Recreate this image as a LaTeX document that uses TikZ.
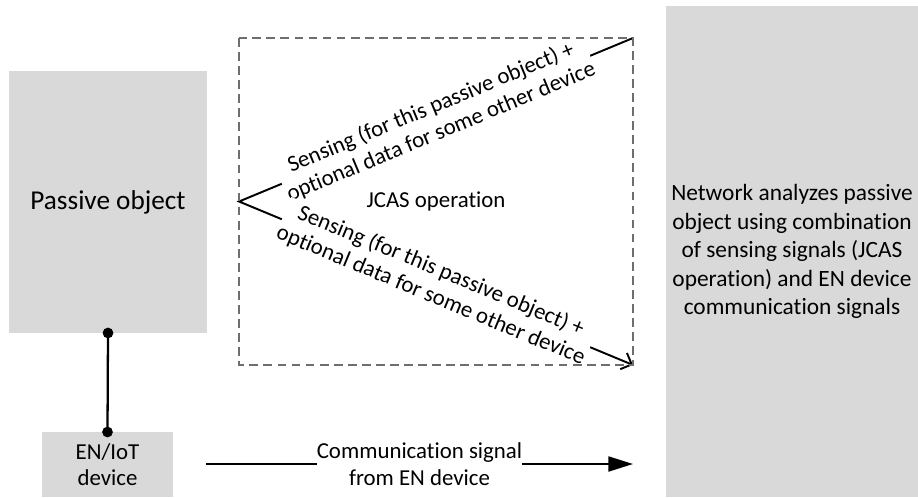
\documentclass[tikz,border=0pt]{standalone}
\usepackage{fontspec}
\setmainfont{Carlito}[Ligatures=NoCommon]
\usetikzlibrary{arrows.meta}
\definecolor{boxgray}{RGB}{217,217,217}
\definecolor{dashgray}{RGB}{110,110,110}

\begin{document}
\begin{tikzpicture}[x=0.02cm, y=-0.02cm,
  box/.style={fill=boxgray, inner sep=0pt, outer sep=0pt, align=center, font=\fontsize{13}{15}\selectfont},
  lbl/.style={fill=white, inner sep=0.5pt, sloped, align=center, font=\fontsize{13}{15}\selectfont}]
\useasboundingbox (0,0) rectangle (918,497);

\node[box, minimum width=3.96cm, minimum height=5.24cm, font=\fontsize{15.5}{18}\selectfont] (passive) at (108,202) {Passive object};
\node[box, minimum width=2.62cm, minimum height=1.3cm, font=\fontsize{13}{14.7}\selectfont] (eniot) at (107.5,464.5) {EN/IoT\\device};
\node[box, minimum width=5.04cm, minimum height=9.82cm, font=\fontsize{13.3}{16.2}\selectfont] (network) at (792,251.5) {Network analyzes passive\\object using combination\\of sensing signals (JCAS\\operation) and EN device\\communication signals};
\node[inner sep=0pt, outer sep=0pt, minimum width=7.88cm, minimum height=6.54cm, font=\fontsize{13}{15}\selectfont] (jcas) at (436,201.5) {JCAS operation};

\coordinate (commstart) at (206,464);
\coordinate (commend) at (633,464);

\draw[{Circle[length=6pt]}-{Circle[length=6pt]}, line width=1.3pt, shorten <=-3pt, shorten >=-3pt] (passive.south) -- (eniot.north);

\draw[line width=1.1pt, -{Straight Barb[length=5pt, width=10pt]}] (jcas.north east) -- node[lbl] {Sensing (for this passive object) +\\optional data for some other device} (jcas.west) -- node[lbl] {Sensing (for this passive object) +\\optional data for some other device} (jcas.south east);

\draw[dashgray, line width=0.7pt, dash pattern=on 5pt off 3pt] (jcas.north west) rectangle (jcas.south east);

\draw[line width=1.2pt, -{Triangle[length=14pt, width=8.5pt]}] (commstart) -- node[fill=white, inner sep=0pt, align=center, font=\fontsize{13}{15.5}\selectfont] {Communication signal\\from EN device} (commend);
\end{tikzpicture}
\end{document}
